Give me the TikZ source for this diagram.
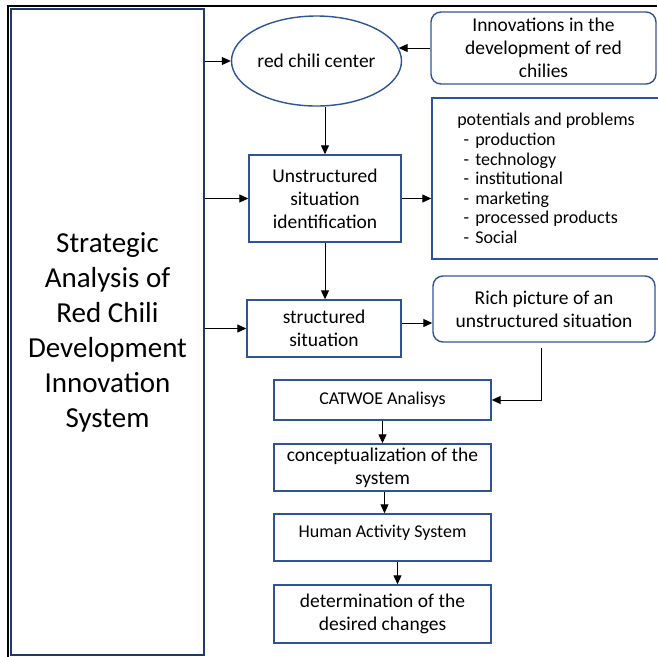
\documentclass[tikz,border=0pt]{standalone}
\usepackage{fontspec}
\setmainfont{Carlito}
\usepackage{tikz}
\usetikzlibrary{arrows.meta,positioning,shapes.geometric}
\usepackage{xcolor}
\definecolor{boxblue}{RGB}{47,84,150}
\definecolor{mainblue}{RGB}{31,56,110}

\begin{document}
\begin{tikzpicture}[x=1pt,y=-1pt,
  box/.style={draw=boxblue, line width=1.4pt, align=center, inner sep=2pt,
    font=\fontsize{19.5}{23}\selectfont},
  rbox/.style={box, rounded corners=10pt},
  sbox/.style={box, font=\fontsize{18}{21}\selectfont},
  arr/.style={-{Triangle[length=9pt,width=8pt]}, line width=1pt}]
\useasboundingbox (0,0) rectangle (657,657);

% outer frame
\draw[line width=2pt] (8,657) -- (8,6) -- (657,6);

\node[box, draw=mainblue, line width=1.6pt, minimum width=193, minimum height=646,
  font=\fontsize{29}{35}\selectfont] (main) at (107.5,332)
  {Strategic\\Analysis of\\Red Chili\\Development\\Innovation\\System};

\node[box, ellipse, inner sep=0pt, minimum width=170, minimum height=90] (chili) at (316.5,61) {red chili center};
\node[rbox, minimum width=225, minimum height=72] (innov) at (543.5,48)
  {Innovations in the\\development of red\\chilies};

\node[box, minimum width=152, minimum height=87] (unstr) at (325,198.5)
  {Unstructured\\situation\\identification};
\node[box, align=left, minimum width=228, minimum height=161,
  font=\fontsize{18}{19.6}\selectfont] (potent) at (546,178.5)
  {potentials and problems\\
   \makebox[18pt]{-}production\\
   \makebox[18pt]{-}technology\\
   \makebox[18pt]{-}institutional\\
   \makebox[18pt]{-}marketing\\
   \makebox[18pt]{-}processed products\\
   \makebox[18pt]{-}Social};

\node[box, minimum width=154, minimum height=57] (struct) at (324,328.5) {structured\\situation};
\node[rbox, minimum width=222, minimum height=66] (rich) at (544,309)
  {Rich picture of an\\unstructured situation};

\node[sbox, minimum width=217, minimum height=40] (catwoe) at (382.5,400) {CATWOE Analisys};
\node[box, minimum width=217, minimum height=47] (concept) at (382.5,467.5)
  {conceptualization of the\\system};
\node[sbox, text depth=13pt, minimum width=217, minimum height=47] (has) at (382.5,537.5)
  {Human Activity System};
\node[box, minimum width=217, minimum height=58] (det) at (382.5,614)
  {determination of the\\desired changes};

% connectors
\draw[arr] (main.east |- chili) -- (chili.west);
\draw[arr] (main.east |- unstr) -- (unstr.west);
\draw[arr] (main.east |- struct) -- (struct.west);
\draw[arr] (innov.west) -- (innov.west -| chili.9);
\draw[arr] (chili.south -| unstr.north) -- (unstr.north);
\draw[arr] (unstr.east) -- (unstr.east -| potent.west);
\draw[arr] (unstr.south) -- (unstr.south |- struct.north);
\coordinate (sr) at ([yshift=5.5pt]struct.east);
\draw[arr] (sr) -- (sr -| rich.west);
\coordinate (rc) at ([shift={(-3pt,-5pt)}]rich.south);
\draw[arr] (rc) |- (catwoe.east);
\draw[arr] (catwoe.south) -- (concept.north);
\draw[arr] ([xshift=2pt]concept.south) -- ([xshift=2pt]has.north);
\draw[arr] ([xshift=15pt]has.south) -- ([xshift=15pt]det.north);
\end{tikzpicture}
\end{document}
